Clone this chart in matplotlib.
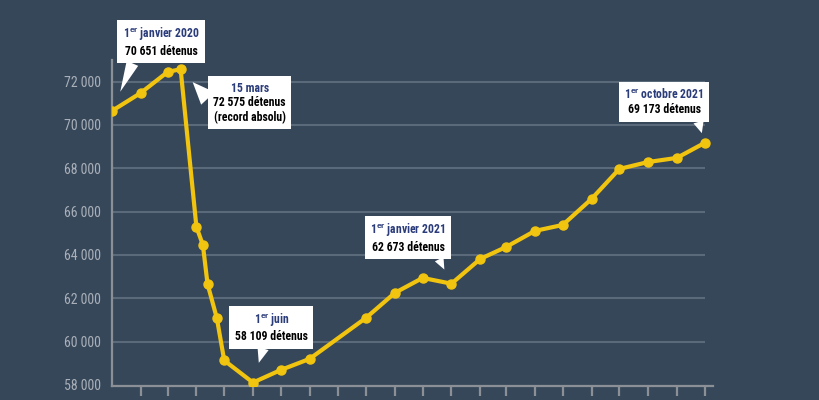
import matplotlib
matplotlib.use("Agg")
import matplotlib.pyplot as plt
from matplotlib.offsetbox import TextArea, VPacker, AnnotationBbox
import pandas as pd

# population carcérale (nombre de détenus)
dates = pd.to_datetime([
    "2020-01-01", "2020-02-01", "2020-03-01", "2020-03-15", "2020-04-01",
    "2020-04-08", "2020-04-13", "2020-04-23", "2020-05-01", "2020-06-01",
    "2020-07-01", "2020-08-01", "2020-10-01", "2020-11-01", "2020-12-01",
    "2021-01-01", "2021-02-01", "2021-03-01", "2021-04-01", "2021-05-01",
    "2021-06-01", "2021-07-01", "2021-08-01", "2021-09-01", "2021-10-01",
])
detenus = [70651, 71480, 72450, 72575, 65300,
           64460, 62660, 61090, 59130, 58109,
           58690, 59200, 61100, 62250, 62940,
           62673, 63815, 64370, 65110, 65385,
           66585, 67970, 68290, 68480, 69173]

ytick_values = [58000, 60000, 62000, 64000, 66000, 68000, 70000, 72000]
ytick_labels = ["58 000", "60 000", "62 000", "64 000", "66 000", "68 000", "70 000", "72 000"]
month_ticks = pd.date_range("2020-02-01", "2021-10-01", freq="MS")

# callouts: index of the point, title, text lines
callout_idx = [0, 3, 9, 15, 24]
callout_titles = ["1$^{\\mathrm{er}}$ janvier 2020", "15 mars", "1$^{\\mathrm{er}}$ juin",
                  "1$^{\\mathrm{er}}$ janvier 2021", "1$^{\\mathrm{er}}$ octobre 2021"]
callout_lines = [["70\u202f651 détenus"],
                 ["72\u202f575 détenus", "(record absolu)"],
                 ["58\u202f109 détenus"],
                 ["62\u202f673 détenus"],
                 ["69\u202f173 détenus"]]
# box offset (pt), arrow start on box, arrow shrink (pt), wedge width
callout_pos = [((35.6, 49.7), (0.17, 0.0), 15.0, 0.65),
               ((49.7, -24.1), (0.0, 0.58), 12.7, 0.95),
               ((13.3, 40.0), (0.40, 0.0), 14.8, 0.6),
               ((-31.3, 33.1), (0.86, 0.0), 11.4, 0.5),
               ((-29.2, 29.5), (0.88, 0.0), 7.3, 0.55)]

bg = "#37475a"
yellow = "#f1c40f"
grid_col = "#5b6a7b"
axis_col = "#8b9096"
navy = "#2b3c7a"
fam = ["Liberation Sans Narrow", "DejaVu Sans Condensed", "Roboto Condensed",
       "Liberation Sans", "DejaVu Sans"]

plt.rcParams["font.family"] = fam
plt.rcParams["mathtext.fontset"] = "custom"
plt.rcParams["mathtext.rm"] = "Liberation Sans:bold"

fig = plt.figure(figsize=(8.2, 4.0), dpi=100, facecolor=bg)
ax = fig.add_axes([112 / 820, 1 - 386 / 400, (713 - 112) / 820, (386 - 60) / 400])
ax.set_facecolor(bg)

ax.set_xlim(pd.Timestamp("2020-01-01"), pd.Timestamp("2021-10-10"))
ax.set_ylim(57950, 73000)

# grid lines stop at the last data point
ax.hlines(ytick_values[1:], dates[0], dates[-1], color=grid_col, lw=1.5, zorder=1)

ax.plot(dates, detenus, color=yellow, lw=3, marker="o", markersize=6.5,
        solid_capstyle="round", zorder=3)

for s in ["top", "right"]:
    ax.spines[s].set_visible(False)
for s in ["left", "bottom"]:
    ax.spines[s].set_color(axis_col)
    ax.spines[s].set_linewidth(1.6)

ax.set_yticks(ytick_values)
ax.set_yticklabels(ytick_labels)
ax.tick_params(axis="y", length=0, pad=8, labelsize=10, labelcolor="#a9b0b9")
ax.set_xticks(month_ticks)
ax.tick_params(axis="x", direction="out", length=7, width=1.6, color=axis_col,
               labelbottom=False)

for i, title, lines, (off, relpos, shrink, tw) in zip(callout_idx, callout_titles,
                                                     callout_lines, callout_pos):
    children = [TextArea(title, textprops=dict(color=navy, fontsize=8.5,
                                               fontweight="bold", family=fam))]
    for ln in lines:
        children.append(TextArea(ln, textprops=dict(color="black", fontsize=8.5,
                                                    fontweight="bold", family=fam)))
    box = VPacker(children=children, align="center", pad=4, sep=1)
    ab = AnnotationBbox(box, (dates[i], detenus[i]), xybox=off,
                        xycoords="data", boxcoords="offset points",
                        box_alignment=(0.5, 0.5), pad=0,
                        bboxprops=dict(boxstyle="square,pad=0", fc="white", ec="none"),
                        arrowprops=dict(arrowstyle="wedge,tail_width=%s" % tw,
                                        fc="white", ec="none", relpos=relpos,
                                        shrinkA=0, shrinkB=shrink),
                        zorder=5)
    ax.add_artist(ab)

fig.savefig("out.png", dpi=100, facecolor=bg)
